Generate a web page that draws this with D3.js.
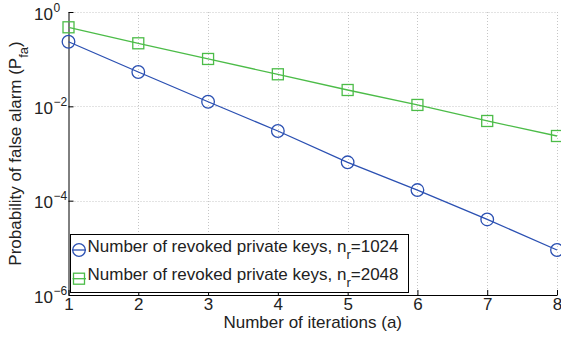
<!DOCTYPE html>
<html>
<head>
<meta charset="utf-8">
<script src="https://cdn.jsdelivr.net/npm/d3@7"></script>
<style>
  html, body { margin: 0; padding: 0; background: #fff; }
  svg { display: block; font-family: Arial, "Liberation Sans", Helvetica, sans-serif; }
</style>
</head>
<body>
<svg id="chart" width="561" height="339"></svg>
<script>
// Iterations (a)
const iterations = [1, 2, 3, 4, 5, 6, 7, 8];
// Probability of false alarm for n_r = 1024 revoked keys
const pfa1024 = [0.234, 0.0535, 0.0125, 0.0030, 6.5e-4, 1.68e-4, 4.0e-5, 9.0e-6];
// Probability of false alarm for n_r = 2048 revoked keys
const pfa2048 = [0.474, 0.217, 0.101, 0.0478, 0.0222, 0.0107, 0.00489, 0.00235];
// Axis ticks
const xTicks = [1, 2, 3, 4, 5, 6, 7, 8];
const yTickExponents = [0, -2, -4, -6];
const seriesLabels = ["1024", "2048"];

const svg = d3.select("#chart");
const plot = { left: 68.5, right: 557, top: 12, bottom: 295 };
const blue = "#2b50b2";
const green = "#4cbc48";
const fontSize = 17;

const x = d3.scaleLinear().domain([1, 8]).range([plot.left, plot.right]);
const y = d3.scaleLog().domain([1e-6, 1]).range([plot.bottom, plot.top]);

// Dotted grid
const grid = svg.append("g").attr("stroke", "#c6c6c6").attr("stroke-width", 1)
  .attr("stroke-dasharray", "1,2");
grid.selectAll("line.v").data(xTicks.slice(1)).join("line")
  .attr("x1", d => Math.round(x(d)) + 0.5).attr("x2", d => Math.round(x(d)) + 0.5)
  .attr("y1", plot.top).attr("y2", plot.bottom);
grid.selectAll("line.h").data(yTickExponents.slice(0, 3)).join("line")
  .attr("y1", d => Math.round(y(Math.pow(10, d))) + 0.5)
  .attr("y2", d => Math.round(y(Math.pow(10, d))) + 0.5)
  .attr("x1", plot.left).attr("x2", plot.right);

// Axes
const xAxis = d3.axisBottom(x).tickValues(xTicks).tickSizeInner(-5).tickSizeOuter(0)
  .tickPadding(3).tickFormat(d3.format("d"));
const gx = svg.append("g").attr("transform", `translate(0,${plot.bottom})`).call(xAxis);
gx.select(".domain").attr("stroke", "#000");
gx.selectAll(".tick line").attr("stroke", "#000");
gx.selectAll(".tick text").attr("font-size", fontSize).attr("fill", "#222")
  .attr("font-family", "Arial, 'Liberation Sans', sans-serif");

const yAxis = d3.axisLeft(y).tickValues(yTickExponents.map(e => Math.pow(10, e)))
  .tickSizeInner(-5).tickSizeOuter(0).tickFormat("");
const gy = svg.append("g").attr("transform", `translate(${plot.left},0)`).call(yAxis);
gy.select(".domain").attr("stroke", "#000");
gy.selectAll(".tick line").attr("stroke", "#000");
gy.selectAll(".tick text").remove();
gy.selectAll(".tick").each(function(d) {
  const e = Math.round(Math.log10(d));
  const t = d3.select(this);
  t.append("text").attr("x", 53 - plot.left).attr("y", 7)
    .attr("text-anchor", "end").attr("font-size", fontSize).attr("fill", "#222")
    .text("10");
  t.append("text").attr("x", 53.5 - plot.left).attr("y", -1)
    .attr("text-anchor", "start").attr("font-size", 12).attr("fill", "#222")
    .text(e === 0 ? "0" : "\u2212" + Math.abs(e));
});

// Series
const series = [
  { values: pfa1024, color: blue, marker: "circle", label: seriesLabels[0] },
  { values: pfa2048, color: green, marker: "square", label: seriesLabels[1] }
];
const line = d3.line().x((d, i) => x(iterations[i])).y(d => y(d));

function drawMarker(g, shape, color, cx, cy) {
  if (shape === "circle") {
    g.append("circle").attr("cx", cx).attr("cy", cy).attr("r", 6.3)
      .attr("fill", "none").attr("stroke", color).attr("stroke-width", 1.3);
  } else {
    g.append("rect").attr("x", cx - 5.5).attr("y", cy - 5.5).attr("width", 11).attr("height", 11)
      .attr("fill", "none").attr("stroke", color).attr("stroke-width", 1.3);
  }
}

series.forEach(s => {
  svg.append("path").datum(s.values).attr("d", line)
    .attr("fill", "none").attr("stroke", s.color).attr("stroke-width", 1.3);
  const mg = svg.append("g");
  s.values.forEach((v, i) => drawMarker(mg, s.marker, s.color, x(iterations[i]), y(v)));
});

// Legend
const legend = svg.append("g");
legend.append("rect").attr("x", 70.5).attr("y", 234.5).attr("width", 338).attr("height", 58)
  .attr("fill", "#fff").attr("stroke", "#000").attr("stroke-width", 1);
series.forEach((s, i) => {
  const cy = 250 + i * 28.7;
  const base = 251.5 + i * 28;
  legend.append("line").attr("x1", 72.5).attr("x2", 86).attr("y1", cy).attr("y2", cy)
    .attr("stroke", s.color).attr("stroke-width", 1.3);
  drawMarker(legend, s.marker, s.color, 79, cy);
  const t = legend.append("text").attr("x", 87.5).attr("y", base)
    .attr("font-size", fontSize).attr("fill", "#222");
  t.append("tspan").text("Number of revoked private keys, n");
  t.append("tspan").attr("font-size", 13).attr("dy", 7).text("r");
  t.append("tspan").attr("dy", -7).text("=" + s.label);
});

// Axis titles
svg.append("text").attr("x", (plot.left + plot.right) / 2).attr("y", 327.5)
  .attr("text-anchor", "middle").attr("font-size", fontSize).attr("fill", "#222")
  .text("Number of iterations (a)");

const yl = svg.append("text")
  .attr("transform", `translate(20.5,${(plot.top + plot.bottom) / 2}) rotate(-90)`)
  .attr("text-anchor", "middle").attr("font-size", fontSize).attr("fill", "#222");
yl.append("tspan").text("Probability of false alarm (P");
yl.append("tspan").attr("font-size", 13).attr("dy", 7).text("fa");
yl.append("tspan").attr("dy", -7).text(")");
</script>
</body>
</html>
